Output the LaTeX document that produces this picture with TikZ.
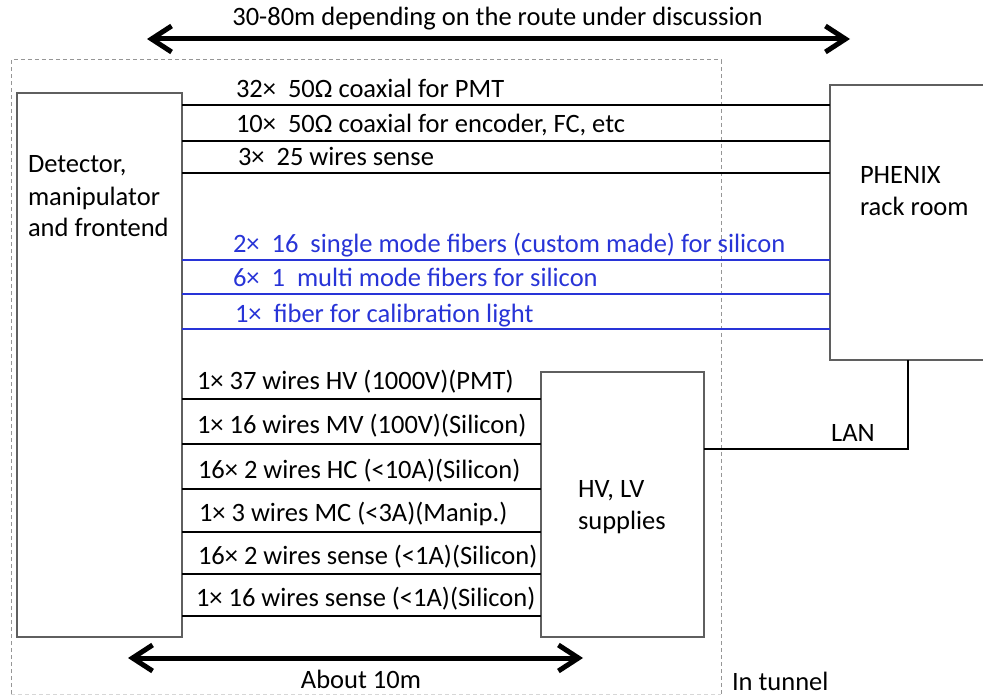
\documentclass[tikz,border=0pt]{standalone}
\usepackage{fontspec}
\setmainfont{Carlito}
\usetikzlibrary{arrows.meta}
\definecolor{fib}{RGB}{40,52,215}
\definecolor{boxc}{RGB}{95,95,95}
\definecolor{dashc}{RGB}{150,150,150}
\definecolor{faintc}{RGB}{215,215,215}
\begin{document}
\begin{tikzpicture}[x=1pt,y=-1pt,
  every node/.style={font=\fontsize{26.5}{32}\selectfont, inner sep=0pt, outer sep=0pt},
  box/.style={draw=boxc, line width=1.5pt, rectangle, fill=white},
  tunnelbox/.style={rectangle},
  tunnelline/.style={draw=dashc, line width=1pt, dash pattern=on 4pt off 3pt},
  wire/.style={line width=2.4pt, black},
  fibre/.style={line width=2pt, fib},
  lbl/.style={anchor=base west},
  flbl/.style={anchor=base west, text=fib},
  dimarrow/.style={line width=5pt, line cap=round, line join=round,
    {Straight Barb[length=20pt,width=26pt,line width=5pt]}-{Straight Barb[length=20pt,width=26pt,line width=5pt]}}
]
\useasboundingbox (0,0) rectangle (983,695);

% tunnel region
\node[tunnelbox, minimum width=710pt, minimum height=634pt] (tun) at (366,377) {};
\draw[tunnelline] (tun.south west) -- (tun.north west) -- (tun.north east) -- (tun.south east);
\draw[tunnelline, draw=faintc] (tun.south west) -- (tun.south east);

% boxes
\node[box, minimum width=165pt, minimum height=544pt] (det) at (99.5,365) {};
\node[box, minimum width=160pt, minimum height=275pt] (phx) at (910,222.5) {};
\node[box, minimum width=163pt, minimum height=265pt] (hv) at (622.5,504.5) {};

\node[anchor=base west, align=left] (dettxt) at (28,237) {Detector,\\manipulator\\and frontend};
\node[anchor=base west, align=left] (phxtxt) at (860,216) {PHENIX\\rack room};
\node[anchor=base west, align=left] (hvtxt) at (578,529) {HV, LV\\supplies};

% dimension arrows
\coordinate (ta1) at (147,39);
\coordinate (ta2) at (850,39);
\draw[dimarrow] (ta1) -- (ta2);
\node[anchor=base] (toptxt) at (497.5,26) {30-80m depending on the route under discussion};

\coordinate (ba1) at (128,658);
\coordinate (ba2) at (583,658);
\draw[dimarrow] (ba1) -- (ba2);
\node[anchor=base] (bottxt) at (361,688) {About 10m};

\node[anchor=base west] (tunnel) at (732,690) {In tunnel};

% copper cables to rack room
\draw[wire] (det.east |- 0,105) -- (phx.west |- 0,105);
\draw[wire] (det.east |- 0,141) -- (phx.west |- 0,141);
\draw[wire] (det.east |- 0,173) -- (phx.west |- 0,173);
\node[lbl] (c1) at (236,98) {32×\ \ 50Ω coaxial for PMT};
\node[lbl] (c2) at (236,133) {10×\ \ 50Ω coaxial for encoder, FC, etc};
\node[lbl] (c3) at (238,166) {3×\ \ 25 wires sense};

% fibres
\draw[fibre] (det.east |- 0,260) -- (phx.west |- 0,260);
\draw[fibre] (det.east |- 0,294) -- (phx.west |- 0,294);
\draw[fibre] (det.east |- 0,329) -- (phx.west |- 0,329);
\node[flbl] (f1) at (233,253) {2×\ \ 16\ \ single mode fibers (custom made) for silicon};
\node[flbl] (f2) at (233,287) {6×\ \ 1\ \ multi mode fibers for silicon};
\node[flbl] (f3) at (235,322) {1×\ \ fiber for calibration light};

% power cables
\draw[wire] (det.east |- 0,399) -- (hv.west |- 0,399);
\draw[wire] (det.east |- 0,444) -- (hv.west |- 0,444);
\draw[wire] (det.east |- 0,489) -- (hv.west |- 0,489);
\draw[wire] (det.east |- 0,532) -- (hv.west |- 0,532);
\draw[wire] (det.east |- 0,574) -- (hv.west |- 0,574);
\draw[wire] (det.east |- 0,616) -- (hv.west |- 0,616);
\node[lbl] (p1) at (197,389) {1× 37 wires HV (1000V)(PMT)};
\node[lbl] (p2) at (197,433) {1× 16 wires MV (100V)(Silicon)};
\node[lbl] (p3) at (198,478) {16× 2 wires HC (<10A)(Silicon)};
\node[lbl] (p4) at (199,521) {1× 3 wires MC (<3A)(Manip.)};
\node[lbl] (p5) at (198,564) {16× 2 wires sense (<1A)(Silicon)};
\node[lbl] (p6) at (196,606) {1× 16 wires sense (<1A)(Silicon)};

% LAN
\draw[wire] (hv.east |- 0,449) -| (phx.south -| 908,0);
\node[anchor=base] (lan) at (853,441) {LAN};
\end{tikzpicture}
\end{document}
